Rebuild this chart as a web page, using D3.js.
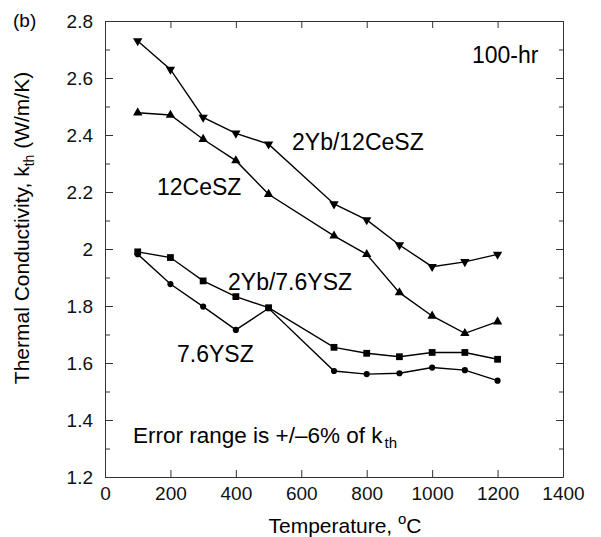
<!DOCTYPE html>
<html>
<head>
<meta charset="utf-8">
<script src="https://cdn.jsdelivr.net/npm/d3@7"></script>
<style>
  body { margin: 0; background: white; }
  svg { font-family: 'Liberation Sans', Arial, sans-serif; }
</style>
</head>
<body>
<svg id="kth-view" width="601" height="537"></svg>
<script>

// temperatures (C) and thermal conductivity (W/m/K) after 100-hr
var temperatures = [100, 200, 300, 400, 500, 700, 800, 900, 1000, 1100, 1200];

var yb_cesz = [2.73, 2.63, 2.462, 2.406, 2.368, 2.158, 2.102, 2.014, 1.938, 1.955, 1.981];
var cesz    = [2.478, 2.47, 2.385, 2.31, 2.192, 2.046, 1.981, 1.847, 1.765, 1.704, 1.745];
var yb_ysz  = [1.99, 1.97, 1.888, 1.833, 1.794, 1.655, 1.634, 1.622, 1.637, 1.637, 1.613];
var ysz     = [1.982, 1.877, 1.798, 1.716, 1.792, 1.572, 1.561, 1.564, 1.584, 1.575, 1.538];

var series_names = ['2Yb/12CeSZ', '12CeSZ', '2Yb/7.6YSZ', '7.6YSZ'];
var series_values = [yb_cesz, cesz, yb_ysz, ysz];

var x_ticks = [0, 200, 400, 600, 800, 1000, 1200, 1400];
var y_ticks = [1.2, 1.4, 1.6, 1.8, 2, 2.2, 2.4, 2.6, 2.8];
var y_minor_ticks = [1.3, 1.5, 1.7, 1.9, 2.1, 2.3, 2.5, 2.7];

class KthView
{
  constructor(id)
  {
    this.id = id;
    this.margin = {top: 21, right: 38, bottom: 60, left: 105};
    this.width = 601 - this.margin.left - this.margin.right;
    this.height = 537 - this.margin.top - this.margin.bottom;

    this.x = d3.scaleLinear().domain([0, 1400]).range([0, this.width]);
    this.y = d3.scaleLinear().domain([1.2, 2.8]).range([this.height, 0]);

    this.svg = d3.select('#' + this.id)
            .append('g')
            .attr('transform', 'translate(' + this.margin.left + ',' + this.margin.top + ')');
  }

  style_axis(g)
  {
    g.attr('color', '#333')
     .attr('font-size', 19)
     .attr('font-family', null);
    g.selectAll('text').attr('fill', '#111');
  }

  make_axes()
  {
    // bottom, with labels
    this.svg.append('g')
        .attr('transform', 'translate(0,' + this.height + ')')
        .call(d3.axisBottom(this.x).tickValues(x_ticks).tickSizeInner(-7).tickSizeOuter(0).tickPadding(10).tickFormat(d => String(d)))
        .call(g => this.style_axis(g));

    // top, mirrored ticks only
    this.svg.append('g')
        .call(d3.axisTop(this.x).tickValues(x_ticks).tickSizeInner(-7).tickSizeOuter(0).tickFormat(''))
        .call(g => this.style_axis(g));

    // left minor + major
    this.svg.append('g')
        .call(d3.axisLeft(this.y).tickValues(y_minor_ticks).tickSizeInner(-5).tickSizeOuter(0).tickFormat(''))
        .call(g => this.style_axis(g));
    this.svg.append('g')
        .call(d3.axisLeft(this.y).tickValues(y_ticks).tickSizeInner(-8).tickSizeOuter(0).tickPadding(12).tickFormat(d => String(d)))
        .call(g => this.style_axis(g));

    // right minor + major
    this.svg.append('g')
        .attr('transform', 'translate(' + this.width + ',0)')
        .call(d3.axisRight(this.y).tickValues(y_minor_ticks).tickSizeInner(-4).tickSizeOuter(0).tickFormat(''))
        .call(g => this.style_axis(g));
    this.svg.append('g')
        .attr('transform', 'translate(' + this.width + ',0)')
        .call(d3.axisRight(this.y).tickValues(y_ticks).tickSizeInner(-7).tickSizeOuter(0).tickFormat(''))
        .call(g => this.style_axis(g));
  }

  draw_series()
  {
    var line = d3.line().x(d => this.x(d.t)).y(d => this.y(d.k));

    var symbols = [
      {type: d3.symbolTriangle, size: 38, rotate: 180},
      {type: d3.symbolTriangle, size: 38, rotate: 0},
      {type: d3.symbolSquare, size: 46, rotate: 0},
      {type: d3.symbolCircle, size: 30, rotate: 0}
    ];

    series_values.forEach((vals, i) => {
      var data = temperatures.map((t, j) => {return {t: t, k: vals[j]};});

      this.svg.append('path')
              .datum(data)
              .attr('fill', 'none')
              .attr('stroke', 'black')
              .attr('stroke-width', 1.4)
              .attr('d', line);

      var sym = d3.symbol().type(symbols[i].type).size(symbols[i].size);

      this.svg.selectAll('.mark-' + i)
              .data(data)
              .enter()
              .append('path')
              .attr('class', 'mark-' + i)
              .attr('d', sym)
              .attr('fill', 'black')
              .attr('transform', d => 'translate(' + this.x(d.t) + ',' + this.y(d.k) + ') rotate(' + symbols[i].rotate + ')');
    });
  }

  draw_labels()
  {
    var root = d3.select('#' + this.id);

    var pos = [[292, 150], [157, 195], [228, 290], [177, 362]];
    series_names.forEach((name, i) => {
      root.append('text')
          .attr('x', pos[i][0])
          .attr('y', pos[i][1])
          .attr('font-size', 23)
          .text(name);
    });

    root.append('text')
        .attr('x', 472)
        .attr('y', 63)
        .attr('font-size', 23)
        .text('100-hr');

    root.append('text')
        .attr('x', 13)
        .attr('y', 27)
        .attr('font-size', 19)
        .text('(b)');

    var err = root.append('text')
        .attr('x', 133)
        .attr('y', 443)
        .attr('font-size', 22.5);
    err.append('tspan').text('Error range is +/\u20136% of k');
    err.append('tspan').attr('font-size', 15).attr('dx', 2).attr('dy', 5).text('th');

    // x title
    var xt = root.append('text')
        .attr('x', 345)
        .attr('y', 533)
        .attr('text-anchor', 'middle')
        .attr('font-size', 21);
    xt.append('tspan').text('Temperature, ');
    xt.append('tspan').attr('font-size', 15).attr('dy', -9).text('o');
    xt.append('tspan').attr('dy', 9).text('C');

    // y title
    var yt = root.append('text')
        .attr('transform', 'translate(29,' + 228 + ') rotate(-90)')
        .attr('text-anchor', 'middle')
        .attr('font-size', 21);
    yt.append('tspan').text('Thermal Conductivity, k');
    yt.append('tspan').attr('font-size', 14).attr('dy', 5).text('th');
    yt.append('tspan').attr('dy', -5).text(' (W/m/K)');
  }
}

var view = new KthView('kth-view');
view.make_axes();
view.draw_series();
view.draw_labels();

</script>
</body>
</html>
